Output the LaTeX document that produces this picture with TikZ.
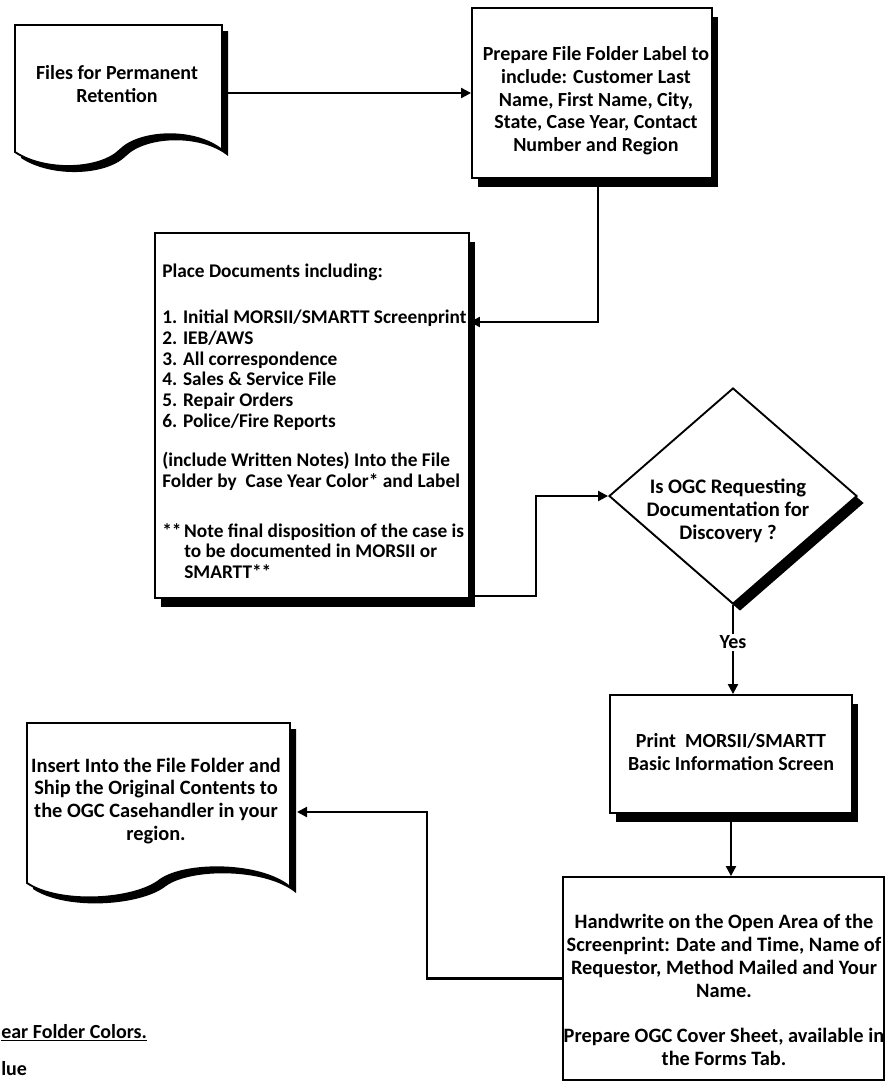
\documentclass[tikz,border=0pt]{standalone}
\usepackage{fontspec}
\setmainfont{Carlito}
\usetikzlibrary{shapes.geometric,arrows.meta,shadows}

\begin{document}
\begin{tikzpicture}[x=0.75pt,y=-0.75pt,
  every node/.style={font=\bfseries\fontsize{15}{17}\selectfont},
  boxshadow/.style={drop shadow={shadow xshift=4.5pt,shadow yshift=-6.75pt,fill=black,opacity=1}},
  box/.style={draw,line width=1.4pt,fill=white,boxshadow,inner sep=0pt},
  plainbox/.style={draw,line width=1.4pt,fill=white,inner sep=0pt},
  docshape/.style={draw,line width=1.4pt,fill=white,
    drop shadow={shadow xshift=4.5pt,shadow yshift=-4.5pt,fill=black,opacity=1}},
  decision/.style={diamond,draw,line width=1.4pt,fill=white,inner sep=0pt,
    drop shadow={shadow xshift=5.25pt,shadow yshift=-5.25pt,fill=black,opacity=1}},
  txt/.style={inner sep=0pt,align=center},
  arr/.style={line width=1.6pt,-{Triangle[length=7.5pt,width=7.5pt]}}]

\useasboundingbox (0,0) rectangle (889,1083);

% document shape: files for permanent retention
\path[docshape] (15,25) -- (222,25) -- (222,150)
  .. controls (195,128) and (140,130) .. (120,150)
  .. controls (100,170) and (45,172) .. (15,152) -- cycle;
\node[txt,minimum width=155.25pt] (d1) at (117,84)
  {Files for Permanent\\Retention};

% folder label
\node[box,minimum width=180pt,minimum height=127.5pt] (b2) at (592,93) {};
\node[txt] (b2t) at (596,101)
  {Prepare File Folder Label to\\include: Customer Last\\Name, First Name, City,\\State, Case Year, Contact\\Number and Region};

% documents to place in the folder
\node[box,minimum width=235.5pt,minimum height=273.75pt] (b3) at (312,415.5) {};
\node[txt,anchor=north west,align=left,font=\bfseries\fontsize{14.5}{15.5}\selectfont] (b3t) at (162,264)
  {Place Documents including:\\[19pt]
   1. Initial MORSII/SMARTT Screenprint\\
   2. IEB/AWS\\
   3. All correspondence\\
   4. Sales \& Service File\\
   5. Repair Orders\\
   6. Police/Fire Reports\\[14pt]
   (include Written Notes) Into the File\\
   Folder by\ \ Case Year Color* and Label\\[22pt]
   \makebox[16.5pt][l]{**}Note final disposition of the case is\\
   \hspace*{16.5pt}to be documented in MORSII or\\
   \hspace*{16.5pt}SMARTT**};

% decision
\node[decision,minimum width=186pt,minimum height=162pt] (dia) at (733,496) {};
\node[txt,font=\bfseries\fontsize{15.5}{17}\selectfont] (dq) at (728,511)
  {Is OGC Requesting\\Documentation for\\Discovery ?};

% print screen
\node[box,minimum width=181.5pt,minimum height=88.5pt] (pr) at (731,754) {};
\node[txt] (prt) at (731,752) {Print\ \ MORSII/SMARTT\\Basic Information Screen};

% handwritten notes
\node[plainbox,minimum width=240.75pt,minimum height=152.25pt] (hw) at (723.5,978.5) {};
\node[txt,font=\bfseries\fontsize{15.3}{17.2}\selectfont] (hwt) at (724,990)
  {Handwrite on the Open Area of the\\Screenprint: Date and Time, Name of\\Requestor, Method Mailed and Your\\Name.\\[17pt]Prepare OGC Cover Sheet, available in\\the Forms Tab.};

% document shape: ship to casehandler
\path[docshape] (27,723) -- (290,723) -- (290,887)
  .. controls (260,862) and (185,862) .. (160,880)
  .. controls (135,900) and (60,905) .. (27,883) -- cycle;
\node[txt,minimum width=197.25pt,font=\bfseries\fontsize{15.3}{17.2}\selectfont] (d4) at (156,801)
  {Insert Into the File Folder and\\Ship the Original Contents to\\the OGC Casehandler in your\\region.};

% connectors
\coordinate (j1) at (598,322);
\coordinate (j2) at (536,496);
\coordinate (j3) at (427,812);
\coordinate (d4in) at (297,812);

\draw[arr] (d1.east |- b2.west) -- (b2.west);
\draw[arr] (b2.south -| j1) -- (j1) -- (b3.east |- j1);
\draw[arr] ([yshift=2.25pt]b3.south east) -| (j2) -- (dia.west);
\draw[arr] (dia.south) -- node[pos=0.42,fill=white,inner sep=1.5pt] (yes) {Yes} (dia.south |- pr.north);
\draw[arr] (pr.south) -- (pr.south |- hw.north);
\draw[arr] (hw.west) -| (j3) -- (d4in);

% legend at the lower left edge
\node[anchor=base west,inner sep=0pt] (legend) at (1,1038) {\underline{ear Folder Colors.}};
\node[anchor=base west,inner sep=0pt] (blue) at (1,1075) {lue};

\end{tikzpicture}
\end{document}
